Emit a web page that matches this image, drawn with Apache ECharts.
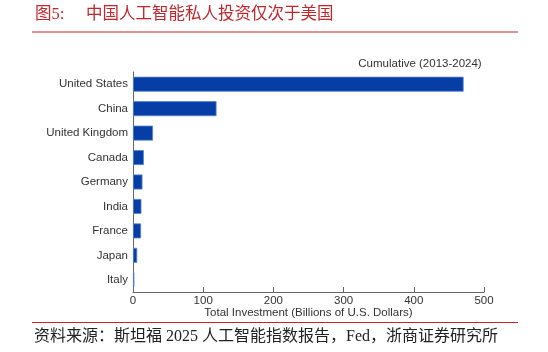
<!DOCTYPE html>
<html><head><meta charset="utf-8">
<script src="https://cdn.jsdelivr.net/npm/echarts@6/dist/echarts.min.js"></script>
<style>html,body{margin:0;padding:0;background:#fff}#c{width:548px;height:352px}</style>
</head><body><div id="c"></div>
<script>
const countries = ['United States','China','United Kingdom','Canada','Germany','India','France','Japan','Italy'];
const investment = [471, 119, 28.5, 15.5, 13.5, 12, 11.5, 6, 2];
const xTicks = [0,100,200,300,400,500];

const chart = echarts.init(document.getElementById('c'));
const cjk = '"Liberation Serif", "Noto Sans CJK SC", serif';
const lat = '"Liberation Sans", Arial, sans-serif';
chart.setOption({
  animation:false,
  grid:{left:133,right:64,top:72,bottom:60},
  xAxis:{type:'value',min:xTicks[0],max:xTicks[xTicks.length-1],interval:100,
    axisLine:{show:true,lineStyle:{color:'#666',width:1}},
    axisTick:{show:true,inside:true,length:5,lineStyle:{color:'#666'}},
    splitLine:{show:false},
    axisLabel:{color:'#333',fontSize:11.5,fontFamily:lat,margin:3},
    name:'Total Investment (Billions of U.S. Dollars)',nameLocation:'middle',nameGap:15,
    nameMoveOverlap:false,
    nameTextStyle:{color:'#333',fontSize:11.5,fontFamily:lat}},
  yAxis:{type:'category',data:countries,inverse:true,
    axisLine:{show:true,lineStyle:{color:'#666',width:1}},
    axisTick:{show:false},
    axisLabel:{color:'#333',fontSize:11.5,fontFamily:lat,margin:5}},
  series:[{type:'bar',data:investment,barWidth:15,
    itemStyle:{color:'#063ea6',borderColor:'#5b86d6',borderWidth:0.8}}],
  graphic:[
    {type:'text',left:35,top:6,style:{text:'图5:',fill:'#c0282d',font:'16.5px '+cjk}},
    {type:'text',left:86,top:6,style:{text:'中国人工智能私人投资仅次于美国',fill:'#c0282d',font:'16.5px '+cjk}},
    {type:'line',shape:{x1:32,y1:32,x2:518,y2:32},style:{stroke:'#d47070',lineWidth:1.5}},
    {type:'text',x:420,y:64,style:{text:'Cumulative (2013-2024)',fill:'#333',font:'11.5px '+lat,textAlign:'center',textVerticalAlign:'middle'}},
    {type:'line',shape:{x1:32,y1:322.5,x2:518,y2:322.5},style:{stroke:'#d02020',lineWidth:1.2}},
    {type:'text',x:34,y:337,style:{text:'资料来源：斯坦福 2025 人工智能指数报告，Fed，浙商证券研究所',fill:'#222',font:'16px '+cjk,textVerticalAlign:'middle'}}
  ]
});
</script></body></html>
